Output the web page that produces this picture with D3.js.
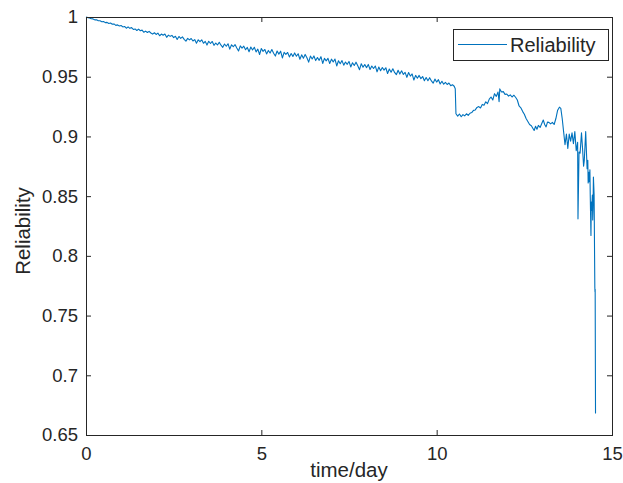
<!DOCTYPE html>
<html><head><meta charset="utf-8">
<script src="https://cdn.jsdelivr.net/npm/d3@7/dist/d3.min.js"></script>
<style>
body{margin:0;background:#fff}
text{font-family:"Liberation Sans",Arial,sans-serif;fill:#262626}
</style></head>
<body><svg id="chart" width="623" height="483"></svg>
<script>
// ---- data ----
const seriesName = "Reliability";
const xLabel = "time/day";
const yLabel = "Reliability";
const xTicks = [0, 5, 10, 15];
const yTicks = [0.65, 0.7, 0.75, 0.8, 0.85, 0.9, 0.95, 1];
const yTickLabels = ["0.65","0.7","0.75","0.8","0.85","0.9","0.95","1"];

const timeA = [
0,0.05,0.1,0.15,0.2,0.25,0.3,0.35,0.4,0.45,
0.5,0.55,0.6,0.65,0.7,0.75,0.8,0.85,0.9,0.95,
1,1.05,1.1,1.15,1.2,1.25,1.3,1.35,1.4,1.45,
1.5,1.55,1.6,1.65,1.7,1.75,1.8,1.85,1.9,1.95,
2,2.05,2.1,2.15,2.2,2.25,2.3,2.35,2.4,2.45,
2.5,2.55,2.6,2.65,2.7,2.75,2.8,2.85,2.9,2.95,
3,3.05,3.1,3.15,3.2,3.25,3.3,3.35,3.4,3.45,
3.5,3.55,3.6,3.65,3.7,3.75,3.8,3.85,3.9,3.95,
4,4.05,4.1,4.15,4.2,4.25,4.3,4.35,4.4,4.45,
4.5,4.55,4.6,4.65,4.7,4.75,4.8,4.85,4.9,4.95,
5,5.05,5.1,5.15,5.2,5.25,5.3,5.35,5.4,5.45,
5.5,5.55,5.6,5.65,5.7,5.75,5.8,5.85,5.9,5.95,
6,6.05,6.1,6.15,6.2,6.25,6.3,6.35,6.4,6.45,
6.5,6.55,6.6,6.65,6.7,6.75,6.8,6.85,6.9,6.95,
7,7.05,7.1,7.15,7.2,7.25,7.3,7.35,7.4,7.45,
7.5,7.55,7.6,7.65,7.7,7.75,7.8,7.85,7.9,7.95,
8,8.05,8.1,8.15,8.2,8.25,8.3,8.35,8.4,8.45,
8.5,8.55,8.6,8.65,8.7,8.75,8.8,8.85,8.9,8.95,
9,9.05,9.1,9.15,9.2,9.25,9.3,9.35,9.4,9.45,
9.5,9.55,9.6,9.65,9.7,9.75,9.8,9.85,9.9,9.95,
10,10.05,10.1,10.15,10.2,10.25,10.3,10.35,10.4,10.45
];
const reliabilityA = [
1.0000,0.9995,0.9992,0.9985,0.9984,0.9976,0.9977,0.9969,0.9968,0.9960,
0.9962,0.9953,0.9955,0.9945,0.9949,0.9940,0.9942,0.9930,0.9934,0.9925,
0.9929,0.9917,0.9921,0.9906,0.9917,0.9905,0.9911,0.9896,0.9900,0.9887,
0.9898,0.9885,0.9890,0.9872,0.9882,0.9870,0.9880,0.9866,0.9857,0.9868,
0.9854,0.9865,0.9843,0.9857,0.9847,0.9857,0.9830,0.9848,0.9838,0.9846,
0.9827,0.9839,0.9812,0.9837,0.9821,0.9833,0.9813,0.9798,0.9821,0.9808,
0.9820,0.9799,0.9811,0.9781,0.9809,0.9793,0.9809,0.9780,0.9796,0.9765,
0.9797,0.9778,0.9795,0.9763,0.9782,0.9766,0.9788,0.9764,0.9746,0.9774,
0.9755,0.9776,0.9731,0.9767,0.9751,0.9769,0.9740,0.9715,0.9758,0.9740,
0.9756,0.9726,0.9745,0.9709,0.9749,0.9724,0.9747,0.9708,0.9731,0.9686,
0.9736,0.9712,0.9728,0.9691,0.9720,0.9698,0.9727,0.9697,0.9673,0.9715,
0.9689,0.9714,0.9657,0.9704,0.9687,0.9703,0.9666,0.9694,0.9670,0.9699,
0.9671,0.9692,0.9646,0.9683,0.9655,0.9687,0.9659,0.9622,0.9673,0.9648,
0.9674,0.9635,0.9661,0.9637,0.9668,0.9611,0.9654,0.9633,0.9654,0.9611,
0.9647,0.9623,0.9648,0.9590,0.9634,0.9609,0.9635,0.9597,0.9623,0.9604,
0.9628,0.9582,0.9617,0.9594,0.9622,0.9592,0.9559,0.9609,0.9580,0.9602,
0.9576,0.9603,0.9560,0.9590,0.9569,0.9590,0.9541,0.9581,0.9550,0.9577,
0.9555,0.9575,0.9527,0.9565,0.9538,0.9566,0.9536,0.9517,0.9554,0.9522,
0.9549,0.9519,0.9536,0.9495,0.9535,0.9505,0.9523,0.9472,0.9511,0.9487,
0.9511,0.9484,0.9502,0.9466,0.9493,0.9466,0.9492,0.9465,0.9446,0.9480,
0.9455,0.9475,0.9439,0.9462,0.9437,0.9453,0.9435,0.9447,0.9425,0.9433
];
const timeB = [
10.5,10.53,10.55,10.6,10.65,10.7,10.75,10.8,10.85,10.9,10.95,
11,11.05,11.1,11.15,11.2,11.25,11.3,11.35,11.4,11.45,11.5,11.55,11.6,11.65,11.7,11.75,11.78,11.8,11.85,11.9,11.95,
12,12.05,12.1,12.15,12.2,12.25,12.3,12.35,12.4,12.45,12.5,12.55,12.6,12.65,12.7,12.75,12.78,12.82,12.86,12.9,12.95,
13,13.04,13.08,13.12,13.16,13.2,13.25,13.3,13.35,13.4,13.45,13.5,13.54,13.58,13.62,13.66,13.7,13.74,13.78,13.82,13.86,13.9,13.94,13.98,
14.02,14.03,14.06,14.09,14.13,14.16,14.19,14.21,14.25,14.27,14.29,14.31,14.32,14.34,14.35,14.37,14.38,14.4,14.41,14.42,14.44,14.45,14.46,14.47,14.49,14.51,14.515,14.52,14.53
];
const reliabilityB = [
0.9420,0.9400,0.9190,0.9170,0.9188,0.9165,0.9183,0.9172,0.9190,0.9176,0.9194,
0.9200,0.9218,0.9222,0.9243,0.9250,0.9238,0.9268,0.9262,0.9290,0.9275,0.9312,0.9330,0.9305,0.9358,0.9335,0.9372,0.9290,0.9398,0.9372,0.9375,0.9352,
0.9355,0.9338,0.9348,0.9330,0.9345,0.9328,0.9305,0.9255,0.9240,0.9210,0.9185,0.9150,0.9125,0.9100,0.9090,0.9065,0.9050,0.9085,0.9060,0.9092,0.9075,
0.9110,0.9138,0.9100,0.9080,0.9120,0.9118,0.9105,0.9118,0.9100,0.9150,0.9220,0.9245,0.9235,0.9150,0.9040,0.8930,0.9020,0.8900,0.9020,0.8960,0.9030,0.8940,0.9040,0.8880,
0.8950,0.8310,0.8870,0.8860,0.9030,0.8900,0.8750,0.8800,0.9040,0.8880,0.8730,0.8800,0.8610,0.8700,0.8620,0.8720,0.8500,0.8170,0.8450,0.8380,0.8510,0.8300,0.8410,0.8660,0.8510,0.7740,0.7700,0.7720,0.6680
];

const times = timeA.concat(timeB);
const reliability = reliabilityA.concat(reliabilityB);
const data = times.map((t, i) => ({t, r: reliability[i]}));

// ---- layout ----
const svg = d3.select("#chart");
const L = 86, R = 612, T = 17, B = 435;
const x = d3.scaleLinear().domain([0, 15]).range([L, R]);
const y = d3.scaleLinear().domain([0.65, 1]).range([B, T]);
const axisColor = "#262626";
const fs = 18.5;

// line
svg.append("path")
  .datum(data)
  .attr("fill", "none")
  .attr("stroke", "#0072BD")
  .attr("stroke-width", 1.1)
  .attr("stroke-linejoin", "round")
  .attr("d", d3.line().x(d => x(d.t)).y(d => y(d.r)));

// axes
const gx = svg.append("g").attr("transform", `translate(0,${B})`)
  .call(d3.axisBottom(x).tickValues(xTicks).tickFormat(d3.format("d")).tickSizeInner(-5).tickSizeOuter(0).tickPadding(12));
const gxTop = svg.append("g").attr("transform", `translate(0,${T})`)
  .call(d3.axisTop(x).tickValues(xTicks).tickFormat("").tickSizeInner(-5).tickSizeOuter(0));
const gy = svg.append("g").attr("transform", `translate(${L},0)`)
  .call(d3.axisLeft(y).tickValues(yTicks).tickFormat((d, i) => yTickLabels[i]).tickSizeInner(-5).tickSizeOuter(0).tickPadding(8));
const gyR = svg.append("g").attr("transform", `translate(${R},0)`)
  .call(d3.axisRight(y).tickValues(yTicks).tickFormat("").tickSizeInner(-5).tickSizeOuter(0));

[gx, gxTop, gy, gyR].forEach(g => {
  g.select(".domain").remove();
  g.selectAll(".tick line").attr("stroke", axisColor).attr("stroke-width", 1);
  g.selectAll(".tick text").attr("font-size", fs).attr("fill", axisColor)
    .style("font-family", "'Liberation Sans', Arial, sans-serif");
});
gx.selectAll(".tick text").attr("dy", "0.71em");

// box
svg.append("rect").attr("x", L).attr("y", T).attr("width", R - L).attr("height", B - T)
  .attr("fill", "none").attr("stroke", axisColor).attr("stroke-width", 1).attr("shape-rendering", "crispEdges");

// labels
svg.append("text").attr("x", (L + R) / 2).attr("y", 477).attr("text-anchor", "middle")
  .attr("font-size", 20.5).text(xLabel);
svg.append("text").attr("transform", `translate(30,${(T + B) / 2 + 5}) rotate(-90)`).attr("text-anchor", "middle")
  .attr("font-size", 20.5).text(yLabel);

// legend
const lg = svg.append("g");
lg.append("rect").attr("x", 453.5).attr("y", 29.5).attr("width", 155).attr("height", 31)
  .attr("fill", "#fff").attr("stroke", axisColor).attr("stroke-width", 1);
lg.append("line").attr("x1", 458).attr("x2", 507).attr("y1", 44.5).attr("y2", 44.5)
  .attr("stroke", "#0072BD").attr("stroke-width", 1);
lg.append("text").attr("x", 510).attr("y", 52).attr("font-size", 20).text(seriesName);
</script></body></html>
